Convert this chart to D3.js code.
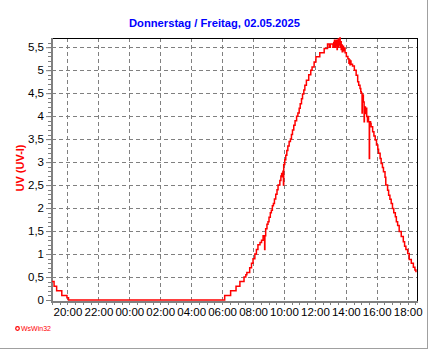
<!DOCTYPE html>
<html>
<head>
<meta charset="utf-8">
<script src="https://cdn.jsdelivr.net/npm/d3@7"></script>
<style>
  body { margin: 0; background: #fff; }
  svg { display: block; font-family: "Liberation Sans", Arial, sans-serif; }
</style>
</head>
<body>
<svg id="chart" width="430" height="350"></svg>
<script>
// data
const title = "Donnerstag / Freitag, 02.05.2025";
const yLabel = "UV (UV-I)";
const xStart = "19:00";
const xEnd = "18:40";
const xTicks = ["20:00", "22:00", "00:00", "02:00", "04:00", "06:00", "08:00", "10:00", "12:00", "14:00", "16:00", "18:00"];
const yTicks = [0, 0.5, 1, 1.5, 2, 2.5, 3, 3.5, 4, 4.5, 5, 5.5];

const times = [
  "19:00", "19:08", "19:18", "19:38", "19:58", "20:04",
  "06:10", "06:33", "06:54", "07:09", "07:25", "07:32", "07:36", "07:47", "07:54",
  "08:00", "08:07", "08:13", "08:19", "08:27", "08:33", "08:39", "08:45", "08:46", "08:49", "08:54", "08:58",
  "09:02", "09:07", "09:11", "09:15", "09:19", "09:23", "09:28", "09:33", "09:37", "09:44", "09:48", "09:51", "09:54", "09:56", "09:58", "09:59",
  "10:03", "10:07", "10:11", "10:15", "10:20", "10:25", "10:29", "10:33", "10:38", "10:43", "10:49", "10:54", "10:59",
  "11:03", "11:08", "11:12", "11:17", "11:21", "11:27", "11:36", "11:44", "11:49", "11:57",
  "12:04", "12:19", "12:36", "12:49", "12:56",
  "13:00", "13:10", "13:13", "13:16", "13:18", "13:20", "13:22", "13:24", "13:26", "13:27", "13:29", "13:31", "13:33", "13:35", "13:37", "13:38",
  "13:40", "13:42", "13:44", "13:46", "13:48", "13:51", "13:54", "13:57",
  "14:02", "14:08", "14:12", "14:13", "14:16", "14:18", "14:20", "14:26", "14:33", "14:40", "14:46", "14:50", "14:55", "14:58",
  "15:00", "15:03", "15:04", "15:08", "15:11", "15:12", "15:16", "15:18", "15:21", "15:24", "15:25", "15:28", "15:31", "15:32", "15:36", "15:38", "15:44", "15:49", "15:54", "15:59",
  "16:04", "16:07", "16:13", "16:17", "16:22", "16:26", "16:32", "16:35", "16:42", "16:46", "16:51", "16:56",
  "17:01", "17:06", "17:12", "17:16", "17:21", "17:27", "17:35", "17:43", "17:48", "17:53",
  "18:00", "18:06", "18:14", "18:22", "18:28", "18:32", "18:35"
];
const uv = [
  0.4, 0.3, 0.2, 0.1, 0.05, 0,
  0.1, 0.2, 0.3, 0.4, 0.5, 0.55, 0.6, 0.7, 0.8,
  0.9, 1.0, 1.1, 1.2, 1.25, 1.3, 1.4, 1.1, 1.4, 1.55, 1.65, 1.7,
  1.8, 1.9, 1.95, 2.05, 2.1, 2.2, 2.3, 2.4, 2.5, 2.6, 2.7, 2.75, 2.68, 2.8, 2.5, 2.95,
  3.05, 3.15, 3.25, 3.35, 3.45, 3.5, 3.6, 3.7, 3.8, 3.9, 4.0, 4.07, 4.17,
  4.27, 4.38, 4.48, 4.57, 4.67, 4.78, 4.9, 5.0, 5.07, 5.18,
  5.29, 5.38, 5.47, 5.57, 5.5,
  5.57, 5.5, 5.6, 5.65, 5.5, 5.62, 5.55, 5.65, 5.45, 5.6, 5.5, 5.68, 5.55, 5.62, 5.7, 5.5,
  5.62, 5.45, 5.55, 5.4, 5.52, 5.42, 5.48, 5.38,
  5.3, 5.25, 5.15, 5.22, 5.12, 5.2, 5.13, 5.09, 5.0, 4.89, 4.75, 4.67, 4.6, 4.53,
  4.5, 4.07, 4.46, 4.31, 3.88, 4.2, 4.06, 4.17, 3.99, 3.88, 3.99, 3.88, 3.08, 3.88, 3.84, 3.77, 3.66, 3.57, 3.48, 3.37,
  3.28, 3.19, 3.08, 2.97, 2.88, 2.79, 2.67, 2.5, 2.39, 2.28, 2.19, 2.1,
  1.99, 1.9, 1.81, 1.7, 1.62, 1.49, 1.38, 1.27, 1.17, 1.1,
  1.01, 0.88, 0.8, 0.71, 0.65, 0.62, 0.62
];

// evening hours belong to 01.05, the rest to 02.05
function toDate(s) {
  const [h, m] = s.split(":").map(Number);
  return new Date(2025, 4, h >= 19 ? 1 : 2, h, m);
}

const svg = d3.select("#chart");
const plotL = 52, plotR = 418, plotT = 38, plotB = 300;

const x = d3.scaleTime()
  .domain([toDate(xStart), toDate(xEnd)])
  .range([plotL, plotR]);

const y = d3.scaleLinear()
  .domain([0, 5.7])
  .range([plotB, plotT]);

const data = times.map((t, i) => ({ t: toDate(t), v: uv[i] }));

// outer frame (right + bottom edge)
svg.append("line").attr("x1", 427.5).attr("x2", 427.5).attr("y1", 0).attr("y2", 349)
  .attr("stroke", "#a0a0a0");
svg.append("line").attr("x1", 0).attr("x2", 428).attr("y1", 348.5).attr("y2", 348.5)
  .attr("stroke", "#a0a0a0");

// title
svg.append("text")
  .attr("x", 214.5).attr("y", 26.5)
  .attr("text-anchor", "middle")
  .attr("font-size", "11.2px").attr("font-weight", "bold")
  .attr("fill", "#0000ff")
  .text(title);

// y label
svg.append("text")
  .attr("transform", "translate(24,168) rotate(-90)")
  .attr("text-anchor", "middle")
  .attr("font-size", "11px").attr("font-weight", "bold")
  .attr("fill", "#ff0000")
  .text(yLabel);

// grid
const gridY = svg.append("g")
  .attr("transform", `translate(${plotL},0)`)
  .call(d3.axisLeft(y).tickValues(yTicks.slice(1)).tickSize(-(plotR - plotL)).tickFormat(""));
gridY.select(".domain").remove();
gridY.selectAll("line").attr("stroke", "#808080").attr("stroke-dasharray", "4,3")
  .attr("shape-rendering", "crispEdges");

const gridX = svg.append("g")
  .attr("transform", `translate(0,${plotT})`)
  .call(d3.axisBottom(x).tickValues(xTicks.map(toDate)).tickSize(plotB - plotT).tickFormat(""));
gridX.select(".domain").remove();
gridX.selectAll("line").attr("stroke", "#808080").attr("stroke-dasharray", "4,3")
  .attr("shape-rendering", "crispEdges");

// frame top + right
svg.append("path")
  .attr("d", `M${plotL},${plotT + 0.5}H${plotR - 0.5}V${plotB + 1}`)
  .attr("fill", "none").attr("stroke", "#000")
  .attr("shape-rendering", "crispEdges");

// minor ticks
const minorY = d3.range(0, 57).map(i => i / 10);
svg.append("g")
  .attr("transform", `translate(${plotL - 1},0)`)
  .call(d3.axisLeft(y).tickValues(minorY).tickSize(3).tickFormat(""))
  .call(g => g.select(".domain").remove())
  .selectAll("line").attr("stroke", "#808080").attr("shape-rendering", "crispEdges");

const minorX = d3.timeMinute.every(30).range(toDate(xStart), toDate(xEnd));
svg.append("g")
  .attr("transform", `translate(0,${plotB + 2})`)
  .call(d3.axisBottom(x).tickValues(minorX).tickSize(3).tickFormat(""))
  .call(g => g.select(".domain").remove())
  .selectAll("line").attr("stroke", "#808080").attr("shape-rendering", "crispEdges");

// y axis labels
const yAxis = svg.append("g")
  .attr("transform", `translate(${plotL - 1},0)`)
  .call(d3.axisLeft(y).tickValues(yTicks).tickSize(5).tickPadding(2)
    .tickFormat(d => String(d).replace(".", ",")));
yAxis.select(".domain").remove();
yAxis.selectAll("line").attr("stroke", "#808080");
yAxis.selectAll("text").attr("font-size", "11.5px").attr("fill", "#000")
  .attr("font-family", "Liberation Sans, Arial, sans-serif");

// x axis labels
const xAxis = svg.append("g")
  .attr("transform", `translate(0,${plotB + 2})`)
  .call(d3.axisBottom(x).tickValues(xTicks.map(toDate)).tickSize(0).tickPadding(6)
    .tickFormat(d3.timeFormat("%H:%M")));
xAxis.select(".domain").remove();
xAxis.selectAll("text").attr("font-size", "11.5px").attr("fill", "#000")
  .attr("font-family", "Liberation Sans, Arial, sans-serif");

// axis lines (gray)
svg.append("path")
  .attr("d", `M${plotL},${plotT}V${plotB + 2}H${plotR}`)
  .attr("fill", "none").attr("stroke", "#808080").attr("stroke-width", 2)
  .attr("shape-rendering", "crispEdges");

// UV line
const line = d3.line()
  .x(d => x(d.t))
  .y(d => y(d.v))
  .curve(d3.curveStepAfter);

svg.append("path")
  .datum(data)
  .attr("d", line)
  .attr("fill", "none")
  .attr("stroke", "#ff0000")
  .attr("stroke-width", 1.5);

// logo
svg.append("circle").attr("cx", 17.5).attr("cy", 328.5).attr("r", 1.8)
  .attr("fill", "#fff").attr("stroke", "#ff0000").attr("stroke-width", 1.2);
svg.append("text")
  .attr("x", 21).attr("y", 331)
  .attr("font-size", "7px")
  .attr("fill", "#ff0000")
  .text("WsWin32");
</script>
</body>
</html>
